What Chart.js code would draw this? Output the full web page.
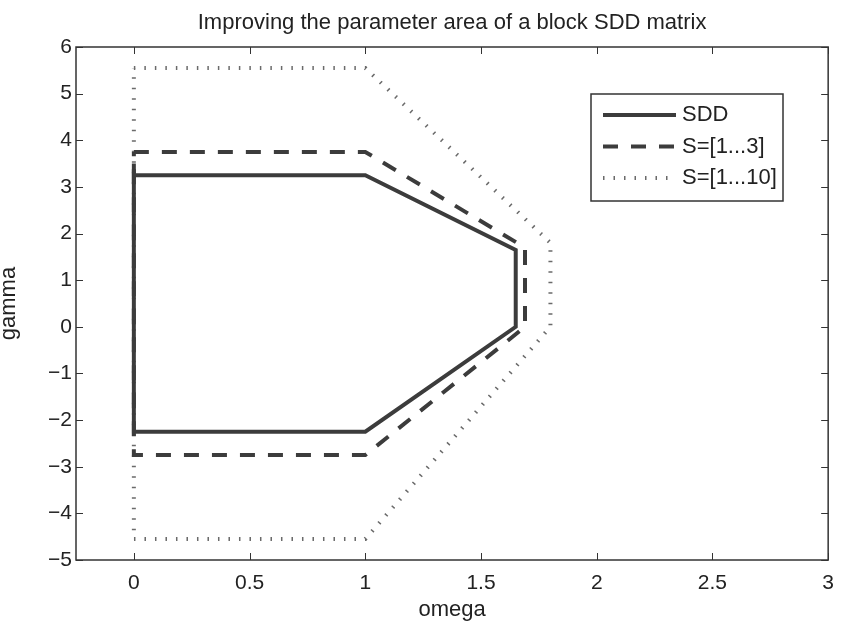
<!DOCTYPE html>
<html>
<head>
<meta charset="utf-8">
<script src="https://cdn.jsdelivr.net/npm/chart.js@4.4.1/dist/chart.umd.min.js"></script>
<style>
  html, body { margin: 0; padding: 0; background: #fff; }
</style>
</head>
<body>
<canvas id="sddChart" width="845" height="622"></canvas>
<script>
// region outlines (omega, gamma)
const sddOmega = [0, 0, 1, 1.65, 1.65, 1, 0];
const sddGamma = [3.5, -2.25, -2.25, 0, 1.65, 3.25, 3.25];

const s3Omega = [0, 1, 1.69, 1.69, 1, 0, 0];
const s3Gamma = [3.75, 3.75, 1.7, 0, -2.75, -2.75, 3.75];

const s10Omega = [0, 1, 1.8, 1.8, 1, 0, 0];
const s10Gamma = [5.55, 5.55, 1.8, 0, -4.55, -4.55, 5.55];

const seriesNames = ["SDD", "S=[1...3]", "S=[1...10]"];
const xTicks = [0, 0.5, 1, 1.5, 2, 2.5, 3];
const yTicks = [-5, -4, -3, -2, -1, 0, 1, 2, 3, 4, 5, 6];
const yTickLabels = ["\u22125", "\u22124", "\u22123", "\u22122", "\u22121", "0", "1", "2", "3", "4", "5", "6"];
const chartTitle = "Improving the parameter area of a block SDD matrix";

const FONT = "'Liberation Sans', Arial, Helvetica, sans-serif";
const INK = "#222";

const toPoints = (xs, ys) => xs.map((x, i) => ({ x: x, y: ys[i] }));

// matlab style box with inward ticks, title centred over the axes
const boxPlugin = {
  id: "boxTicks",
  afterDatasetsDraw(chart) {
    const { ctx, chartArea: a, scales } = chart;
    ctx.save();
    ctx.strokeStyle = "#333";
    ctx.lineWidth = 1.5;
    ctx.strokeRect(a.left, a.top, a.right - a.left, a.bottom - a.top);
    ctx.lineWidth = 1;
    ctx.beginPath();
    xTicks.forEach(v => {
      const px = Math.round(scales.x.getPixelForValue(v)) + 0.5;
      ctx.moveTo(px, a.bottom); ctx.lineTo(px, a.bottom - 7);
      ctx.moveTo(px, a.top); ctx.lineTo(px, a.top + 7);
    });
    yTicks.forEach(v => {
      const py = Math.round(scales.y.getPixelForValue(v)) + 0.5;
      ctx.moveTo(a.left, py); ctx.lineTo(a.left + 7, py);
      ctx.moveTo(a.right, py); ctx.lineTo(a.right - 7, py);
    });
    ctx.stroke();

    ctx.font = "22px " + FONT;
    ctx.fillStyle = INK;
    ctx.textAlign = "center";
    ctx.textBaseline = "middle";
    ctx.fillText(chartTitle, (a.left + a.right) / 2, 23);
    ctx.restore();
  }
};

// legend box in the upper right of the axes
const legendPlugin = {
  id: "boxLegend",
  afterDraw(chart) {
    const { ctx } = chart;
    const left = 591, top = 94, w = 192, h = 107;
    ctx.save();
    ctx.fillStyle = "#fff";
    ctx.fillRect(left, top, w, h);
    ctx.strokeStyle = "#333";
    ctx.lineWidth = 1.5;
    ctx.strokeRect(left, top, w, h);
    ctx.font = "22px " + FONT;
    ctx.textBaseline = "middle";
    ctx.fillStyle = INK;
    chart.data.datasets.forEach((ds, i) => {
      const y = top + 21 + i * 31.5;
      ctx.beginPath();
      ctx.strokeStyle = ds.borderColor;
      ctx.lineWidth = ds.borderWidth;
      ctx.setLineDash(ds.borderDash || []);
      ctx.moveTo(603, y);
      ctx.lineTo(676, y);
      ctx.stroke();
      ctx.setLineDash([]);
      ctx.fillText(ds.label, 682, y);
    });
    ctx.restore();
  }
};

const ctx = document.getElementById("sddChart");

const sddChart = new Chart(ctx, {
  type: "scatter",
  data: {
    datasets: [
      {
        label: seriesNames[0],
        data: toPoints(sddOmega, sddGamma),
        showLine: true,
        borderColor: "#3c3c3c",
        borderWidth: 4,
        pointRadius: 0,
        borderJoinStyle: "miter"
      },
      {
        label: seriesNames[1],
        data: toPoints(s3Omega, s3Gamma),
        showLine: true,
        borderColor: "#3c3c3c",
        borderWidth: 4,
        borderDash: [15, 13],
        pointRadius: 0
      },
      {
        label: seriesNames[2],
        data: toPoints(s10Omega, s10Gamma),
        showLine: true,
        borderColor: "#6a6a6a",
        borderWidth: 4,
        borderDash: [1.5, 9],
        pointRadius: 0
      }
    ]
  },
  options: {
    responsive: false,
    animation: false,
    layout: {
      padding: { left: 0, right: 13, top: 47, bottom: 0 }
    },
    plugins: {
      legend: { display: false },
      tooltip: { enabled: false },
      title: { display: false }
    },
    scales: {
      x: {
        type: "linear",
        min: -0.25,
        max: 3,
        afterBuildTicks: scale => {
          scale.ticks = xTicks.map(v => ({ value: v }));
        },
        afterFit: scale => {
          scale.height = 62;
        },
        grid: { display: false, drawTicks: false },
        border: { display: false },
        ticks: {
          color: INK,
          padding: 11,
          maxRotation: 0,
          font: { family: FONT, size: 21 },
          callback: v => String(v)
        },
        title: {
          display: true,
          text: "omega",
          color: INK,
          font: { family: FONT, size: 22, lineHeight: "12px" },
          padding: { top: 0, bottom: 6 }
        }
      },
      y: {
        type: "linear",
        min: -5,
        max: 6,
        afterBuildTicks: scale => {
          scale.ticks = yTicks.map(v => ({ value: v }));
        },
        afterFit: scale => {
          scale.width = 76;
        },
        grid: { display: false, drawTicks: false },
        border: { display: false },
        ticks: {
          color: INK,
          padding: 4,
          font: { family: FONT, size: 21 },
          callback: v => yTickLabels[yTicks.indexOf(v)]
        },
        title: {
          display: true,
          text: "gamma",
          color: INK,
          font: { family: FONT, size: 22, lineHeight: "12px" },
          padding: { top: 3, bottom: 0 }
        }
      }
    }
  },
  plugins: [boxPlugin, legendPlugin]
});
</script>
</body>
</html>
